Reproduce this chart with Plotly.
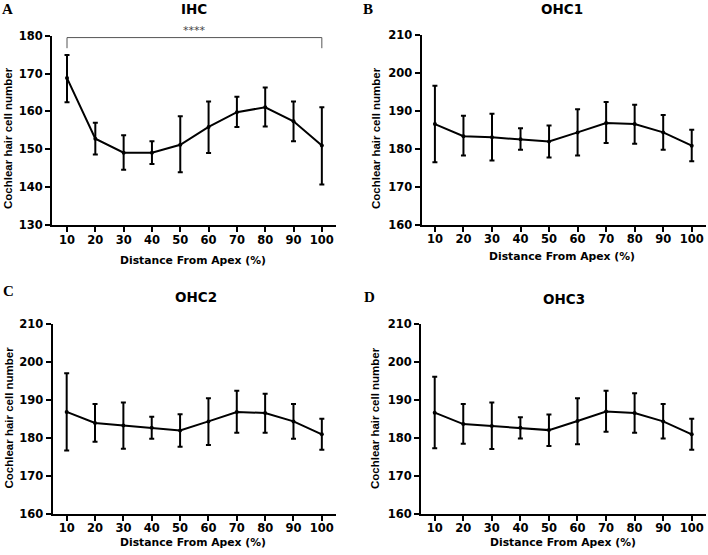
import plotly.graph_objects as go
from plotly.subplots import make_subplots

# distance from apex (%)
distance = [10, 20, 30, 40, 50, 60, 70, 80, 90, 100]

# values: mean, top and bottom of the error bar
ihc_mean = [168.8, 152.8, 149.1, 149.1, 151.2, 155.9, 159.8, 161.1, 157.4, 151.0]
ihc_upper = [174.9, 157.0, 153.7, 152.1, 158.7, 162.6, 163.9, 166.3, 162.6, 161.1]
ihc_lower = [162.4, 148.6, 144.6, 146.1, 143.9, 149.0, 155.9, 156.0, 152.1, 140.7]

ohc1_mean = [186.5, 183.3, 183.0, 182.5, 181.9, 184.3, 186.8, 186.5, 184.3, 180.8]
ohc1_upper = [196.6, 188.7, 189.2, 185.4, 186.1, 190.4, 192.3, 191.6, 188.9, 185.0]
ohc1_lower = [176.4, 178.2, 176.9, 179.7, 177.7, 178.2, 181.5, 181.3, 179.7, 176.7]

ohc2_mean = [186.8, 183.9, 183.2, 182.6, 181.9, 184.3, 186.8, 186.5, 184.3, 180.9]
ohc2_upper = [197.0, 188.9, 189.3, 185.5, 186.2, 190.4, 192.4, 191.6, 188.9, 185.0]
ohc2_lower = [176.6, 178.9, 177.1, 179.7, 177.6, 178.1, 181.3, 181.3, 179.7, 176.8]

ohc3_mean = [186.6, 183.6, 183.1, 182.6, 182.0, 184.4, 186.9, 186.5, 184.3, 180.9]
ohc3_upper = [196.1, 188.9, 189.3, 185.4, 186.1, 190.4, 192.4, 191.7, 188.9, 185.0]
ohc3_lower = [177.2, 178.4, 177.0, 179.8, 177.8, 178.3, 181.6, 181.3, 179.8, 176.8]

panel_titles = ["IHC", "OHC1", "OHC2", "OHC3"]
panel_letters = ["A", "B", "C", "D"]

# significance bracket in IHC panel (10% vs 100%)
sig_x = [10, 10, 100, 100]
sig_y = [176.7, 179.5, 179.5, 176.7]
sig_label = "****"

W, H = 708, 555
SANS = "DejaVu Sans"


def px(x):
    return x / W


def py(y):
    return 1 - y / H


fig = make_subplots(rows=2, cols=2)

series = [
    (ihc_mean, ihc_upper, ihc_lower, 1, 1),
    (ohc1_mean, ohc1_upper, ohc1_lower, 1, 2),
    (ohc2_mean, ohc2_upper, ohc2_lower, 2, 1),
    (ohc3_mean, ohc3_upper, ohc3_lower, 2, 2),
]

for mean, upper, lower, r, c in series:
    fig.add_trace(go.Scatter(
        x=distance, y=mean, mode="lines+markers",
        line=dict(color="black", width=2),
        marker=dict(color="black", size=4),
        error_y=dict(type="data", symmetric=False,
                     array=[u - m for u, m in zip(upper, mean)],
                     arrayminus=[m - l for m, l in zip(mean, lower)],
                     color="black", thickness=2, width=2.5),
        showlegend=False, cliponaxis=False,
    ), row=r, col=c)

fig.add_trace(go.Scatter(
    x=sig_x, y=sig_y, mode="lines",
    line=dict(color="#555555", width=1),
    showlegend=False, cliponaxis=False,
), row=1, col=1)

# pixel layout of the four panels: (left, right, top, bottom, x-range, y-range)
panels = [
    (52, 336, 35.7, 225, [4.7, 105], [130, 180]),
    (421.5, 706, 35, 224.5, [5.3, 105], [160, 210]),
    (52.5, 336, 324, 513.5, [5.0, 105], [160, 210]),
    (421, 706, 324, 513.5, [5.2, 105], [160, 210]),
]

axis_style = dict(
    showline=True, linecolor="black", linewidth=2,
    ticks="outside", ticklen=5, tickwidth=2, tickcolor="black",
    showgrid=False, zeroline=False, automargin=False,
    tickfont=dict(family=SANS, size=11.5, color="black", weight="bold"),
)

for i, (l, r, t, b, xr, yr) in enumerate(panels):
    n = "" if i == 0 else str(i + 1)
    fig.update_layout(**{
        "xaxis" + n: dict(domain=[px(l), px(r)], range=xr, ticklabelstandoff=-2,
                          tickvals=distance, **axis_style),
        "yaxis" + n: dict(domain=[py(b), py(t)], range=yr,
                          tickvals=list(range(yr[0], yr[1] + 1, 10)), **axis_style),
    })

annotations = []


def ann(text, x, y, size, family=SANS, angle=0, color="black"):
    annotations.append(dict(
        text=text, x=px(x), y=py(y), xref="paper", yref="paper",
        showarrow=False, textangle=angle, xanchor="center", yanchor="middle",
        font=dict(family=family, size=size, color=color),
    ))


title_pos = [(194, 9), (562, 9), (196, 297), (563.5, 299)]
letter_pos = [(7, 9), (368, 9), (8, 291), (369, 297)]
ytitle_pos = [(8, 138), (376, 138), (8.5, 418), (375, 418)]
xtitle_pos = [(193, 260), (562, 257), (193, 542), (563, 542)]

for i in range(4):
    ann("<b>" + panel_titles[i] + "</b>", *title_pos[i], 13.5)
    ann("<b>" + panel_letters[i] + "</b>", *letter_pos[i], 15, family="Liberation Serif")
    ann("<b>Cochlear hair cell number</b>", *ytitle_pos[i], 11.5, family="Liberation Sans", angle=-90)
    ann("<b>Distance From Apex (%)</b>", *xtitle_pos[i], 10.8)

annotations.append(dict(
    text=sig_label, x=55, y=py(31), xref="x", yref="paper", showarrow=False,
    xanchor="center", yanchor="middle",
    font=dict(family=SANS, size=11, color="#444444"),
))

fig.update_layout(
    width=W, height=H,
    margin=dict(l=0, r=0, t=0, b=0),
    plot_bgcolor="white", paper_bgcolor="white",
    annotations=annotations,
)

fig.write_html("out.html", config={"displayModeBar": False},
               post_script="document.body.style.margin='0';document.body.style.overflow='hidden';")
